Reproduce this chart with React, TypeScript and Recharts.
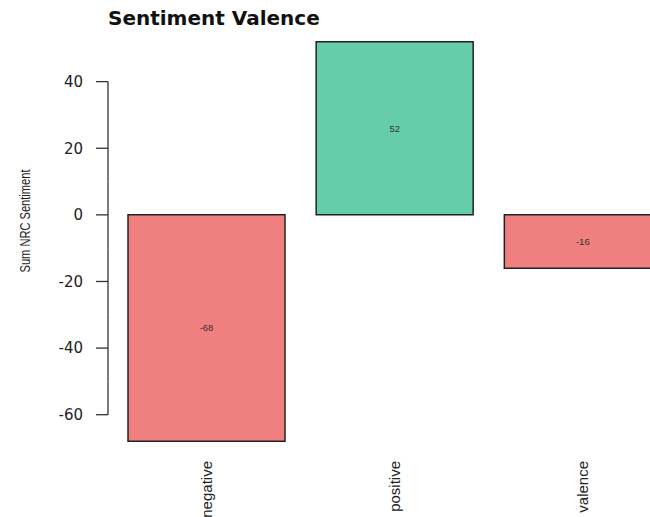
import { BarChart, Bar, XAxis, YAxis, Cell, LabelList, Label } from 'recharts';

const categories = ['negative', 'positive', 'valence'];
const sentimentSums = [-68, 52, -16];
const yTicks = [-60, -40, -20, 0, 20, 40];
const yDomain = [-73, 57];

const data = categories.map((name, i) => ({ name, value: sentimentSums[i] }));

const NEG = '#F08080';
const POS = '#66CDAA';

const W = 677;
const H = 517;
const TOP = 25;
const X_AXIS_H = 59;
const PLOT_H = H - TOP - X_AXIS_H;
const TICK_STEP_PX = (PLOT_H * (yTicks[1] - yTicks[0])) / (yDomain[1] - yDomain[0]);

function YTick(props: any) {
  const { x, y, payload, index, visibleTicksCount } = props;
  const half = TICK_STEP_PX / 2;
  const last = (visibleTicksCount ?? yTicks.length) - 1;
  const y1 = index === 0 ? y : y + half;
  const y2 = index === last ? y : y - half;
  return (
    <g>
      <line x1={x - 12} y1={y} x2={x} y2={y} stroke="#333" strokeWidth={1.3} />
      <line x1={x} y1={y1} x2={x} y2={y2} stroke="#333" strokeWidth={1.3} />
      <text
        x={x - 25}
        y={y}
        dy="0.36em"
        textAnchor="end"
        fontFamily="DejaVu Sans"
        fontSize={15}
        fill="#222"
      >
        {payload.value}
      </text>
    </g>
  );
}

function XTick(props: any) {
  const { x, y, payload } = props;
  const tx = x + 5;
  const ty = y + 3;
  return (
    <text
      x={tx}
      y={ty}
      transform={`rotate(-90, ${tx}, ${ty})`}
      textAnchor="end"
      fontFamily="Liberation Sans"
      fontSize={15}
      fill="#222"
    >
      {payload.value}
    </text>
  );
}

function YLabel(props: any) {
  const { viewBox } = props;
  const lx = viewBox.x + 30;
  const ly = 221;
  return (
    <text
      x={lx}
      y={ly}
      transform={`rotate(-90, ${lx}, ${ly})`}
      textAnchor="middle"
      fontFamily="Liberation Sans"
      fontSize={14}
      textLength={103}
      lengthAdjust="spacingAndGlyphs"
      fill="#222"
    >
      Sum NRC Sentiment
    </text>
  );
}

export default function App() {
  return (
    <div
      style={{
        position: 'absolute',
        left: 0,
        top: 0,
        width: 650,
        height: 517,
        overflow: 'hidden',
        background: '#fff',
      }}
    >
      <div
        style={{
          position: 'absolute',
          left: 108,
          top: 6,
          fontFamily: 'DejaVu Sans',
          fontWeight: 'bold',
          fontSize: 20,
          color: '#111',
          whiteSpace: 'nowrap',
        }}
      >
        Sentiment Valence
      </div>
      <BarChart
        width={W}
        height={H}
        data={data}
        margin={{ top: TOP, right: 0, bottom: 0, left: 0 }}
        barCategoryGap={15.5}
      >
        <XAxis
          dataKey="name"
          height={X_AXIS_H}
          axisLine={false}
          tickLine={false}
          tickSize={0}
          tickMargin={0}
          padding={{ left: 4.5, right: 0 }}
          interval={0}
          tick={<XTick />}
        />
        <YAxis
          width={108}
          domain={yDomain}
          ticks={yTicks}
          axisLine={false}
          tickLine={false}
          tickSize={0}
          tickMargin={0}
          interval={0}
          tick={<YTick />}
        >
          <Label content={<YLabel />} />
        </YAxis>
        <Bar dataKey="value" stroke="#222" strokeWidth={1.5} isAnimationActive={false}>
          {data.map((d, i) => (
            <Cell key={i} fill={d.value < 0 ? NEG : POS} />
          ))}
          <LabelList dataKey="value" position="center" fontSize={9.5} fill="#333" fontFamily="Liberation Sans" />
        </Bar>
      </BarChart>
    </div>
  );
}
